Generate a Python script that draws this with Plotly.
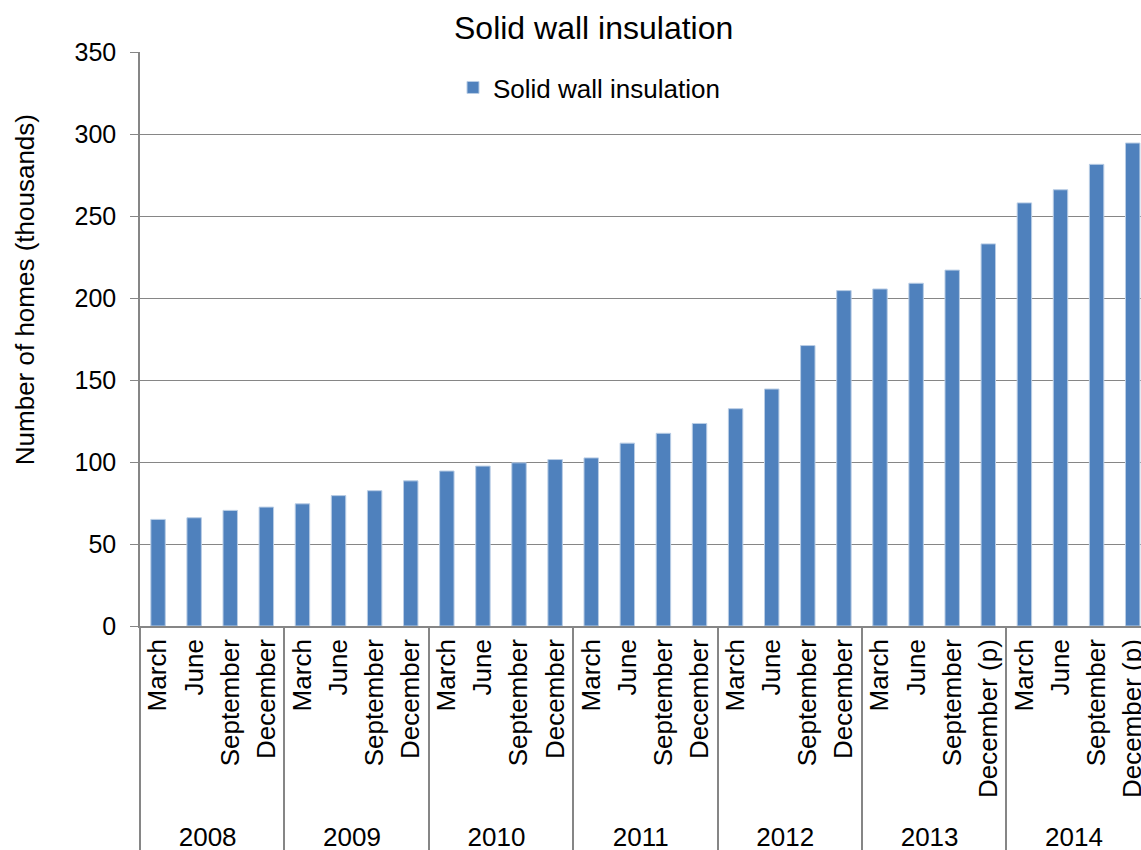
import plotly.graph_objects as go

# Quarterly cumulative solid wall insulations, thousands of homes
years = ["2008", "2009", "2010", "2011", "2012", "2013", "2014"]
quarters_regular = ["March", "June", "September", "December"]
quarters_provisional = ["March", "June", "September", "December (p)"]
values = [
    65, 66, 70.5, 72.5,
    74.5, 79.5, 82.5, 88.5,
    94.5, 97.5, 99.5, 101.5,
    102.5, 111.5, 117.5, 123.5,
    132.5, 144.5, 171, 204.5,
    205.5, 209, 217, 233,
    258, 266, 281.5, 294.5,
]

year_level = []
quarter_level = []
for y in years:
    qs = quarters_provisional if y in ("2013", "2014") else quarters_regular
    for q in qs:
        year_level.append(y)
        quarter_level.append(q)

GREY = "#868686"
FONT = "Liberation Sans, Arial, sans-serif"

fig = go.Figure()
fig.add_trace(go.Bar(
    x=[year_level, quarter_level],
    y=values,
    name="Solid wall insulation",
    marker=dict(color="#4F81BD", line=dict(color="#B9CDE5", width=1)),
    showlegend=True,
))

fig.update_layout(
    width=1141,
    height=850,
    margin=dict(l=140, r=0, t=52, b=224),
    paper_bgcolor="white",
    plot_bgcolor="white",
    font=dict(family=FONT, size=25, color="black"),
    bargap=0.6,
    showlegend=True,
    legend=dict(
        x=0.3127, y=0.979, xanchor="left", yanchor="top",
        bgcolor="rgba(0,0,0,0)",
        font=dict(size=26),
        itemwidth=30,
    ),
    xaxis=dict(
        type="multicategory",
        range=[-0.5, 27.23],
        tickangle=-90,
        showline=True,
        linecolor=GREY,
        linewidth=1.5,
        showdividers=True,
        dividercolor=GREY,
        dividerwidth=1.5,
        tickfont=dict(size=26),
        ticklabelstandoff=1,
        showgrid=False,
    ),
    yaxis=dict(
        range=[0, 350],
        dtick=50,
        showgrid=True,
        gridcolor=GREY,
        gridwidth=1,
        showline=True,
        linecolor=GREY,
        linewidth=1.5,
        ticks="outside",
        ticklen=8,
        tickcolor=GREY,
        ticklabelstandoff=9,
        zeroline=False,
        tickfont=dict(size=25),
    ),
    annotations=[
        dict(
            text="Solid wall insulation",
            xref="paper", yref="paper",
            x=0.4535, y=1.0, yshift=4,
            xanchor="center", yanchor="bottom",
            showarrow=False,
            font=dict(size=32),
        ),
        dict(
            text="Number of homes (thousands)",
            xref="paper", yref="paper",
            x=0, xshift=-115, y=0.585,
            xanchor="center", yanchor="middle",
            textangle=-90,
            showarrow=False,
            font=dict(size=26),
        ),
    ],
)

fig.write_html("out.html")
